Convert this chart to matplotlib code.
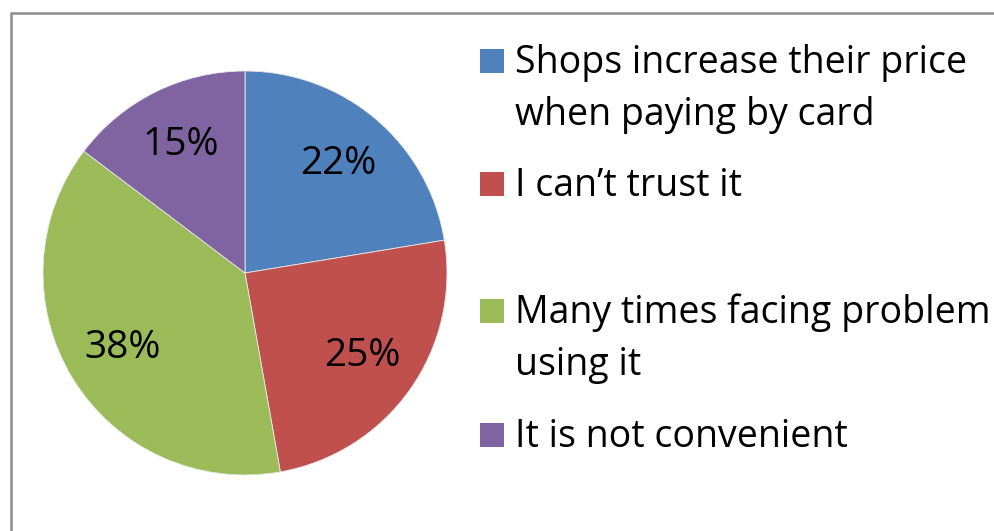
import matplotlib
matplotlib.use("Agg")
import matplotlib.pyplot as plt
from matplotlib.patches import Rectangle

labels = ["Shops increase their price\nwhen paying by card",
          "I can\u2019t trust it",
          "Many times facing problem\nusing it",
          "It is not convenient"]
values = [22.4, 24.8, 38.1, 14.7]
colors = ["#4F81BD", "#C0504D", "#9BBB59", "#8064A2"]

plt.rcParams["font.family"] = ["Open Sans", "DejaVu Sans"]

W, H = 995, 531
fig = plt.figure(figsize=(W / 100, H / 100), dpi=100)
fig.patch.set_facecolor("white")

# marco gris
fig.patches.append(Rectangle((11 / W, -0.1), 1.2, 1 - 13 / H + 0.1, transform=fig.transFigure,
                             fill=False, edgecolor="#8c8c8c", linewidth=1.8))

# pastel
cx, cy, r = 245, 273, 202
ax = fig.add_axes([(cx - r) / W, 1 - (cy + r) / H, 2 * r / W, 2 * r / H])
wedges, texts, autotexts = ax.pie(values, colors=colors, startangle=90, counterclock=False,
                                  autopct="%.0f%%", pctdistance=0.71,
                                  wedgeprops=dict(linewidth=0.6, edgecolor="#e8e8e8"),
                                  textprops=dict(fontsize=28, color="black"))
ax.set_xlim(-1, 1)
ax.set_ylim(-1, 1)
ax.set_aspect("equal")
ax.axis("off")

# leyenda a mano
baselines = [73, 196, 323, 447]
line_gap = 52
for lab, col, b in zip(labels, colors, baselines):
    fig.patches.append(Rectangle((480 / W, 1 - b / H), 24 / W, 24 / H, transform=fig.transFigure,
                                 facecolor=col, edgecolor="none"))
    for i, line in enumerate(lab.split("\n")):
        fig.text(515 / W, 1 - (b + i * line_gap) / H, line, fontsize=27, va="baseline", ha="left")

plt.savefig("out.png", dpi=100)
